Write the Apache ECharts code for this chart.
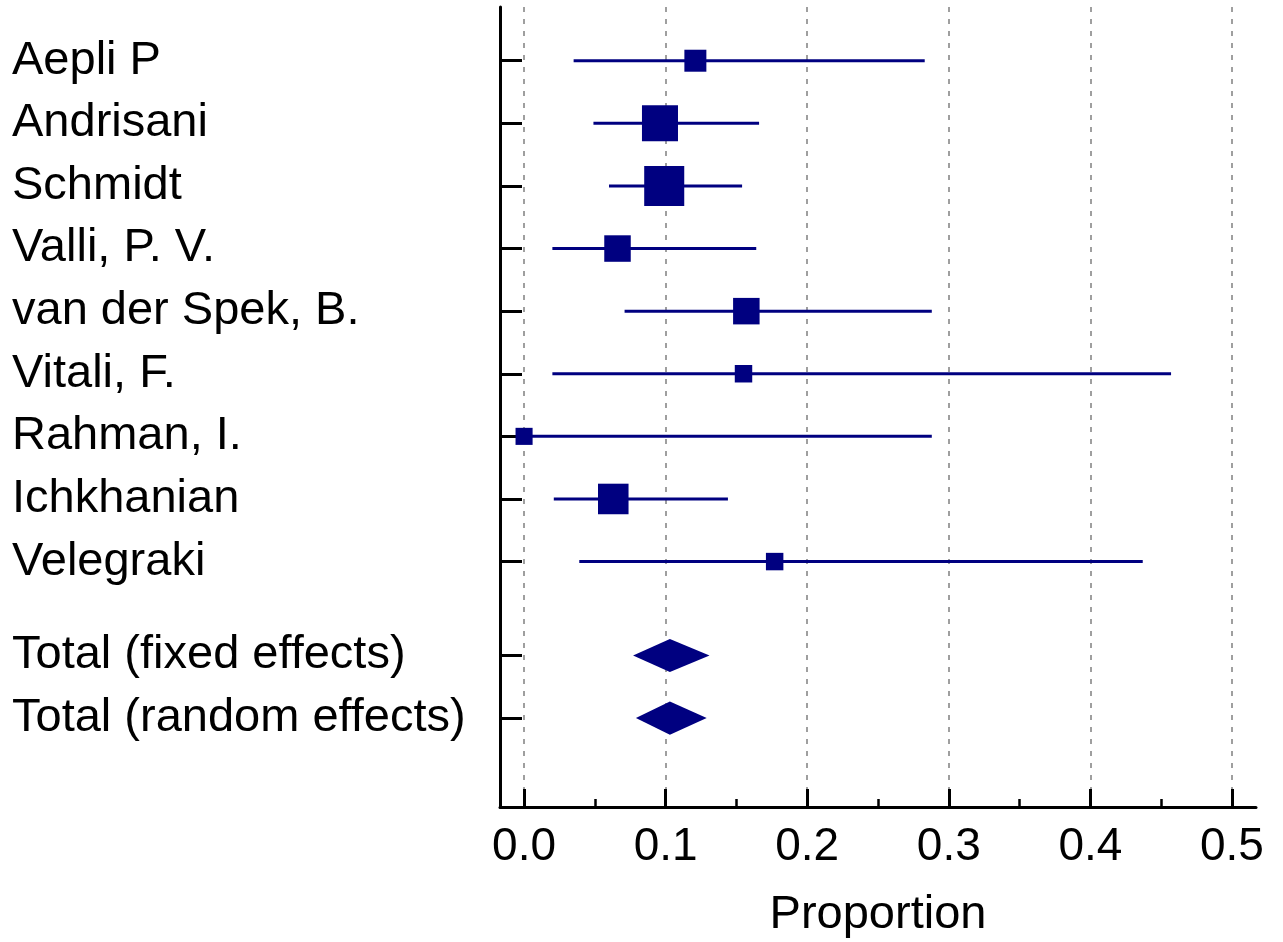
<!DOCTYPE html>
<html>
<head>
<meta charset="utf-8">
<title>Forest plot - Proportion</title>
<script src="https://cdn.jsdelivr.net/npm/echarts@6/dist/echarts.min.js"></script>
<style>
  html, body { margin: 0; padding: 0; background: #fff; }
  #chart { width: 1283px; height: 942px; }
</style>
</head>
<body>
<div id="chart"></div>
<script>
// individual studies, top to bottom
const studies = ["Aepli P", "Andrisani", "Schmidt", "Valli, P. V.", "van der Spek, B.", "Vitali, F.", "Rahman, I.", "Ichkhanian", "Velegraki"];
const proportion = [0.121, 0.096, 0.099, 0.066, 0.157, 0.155, 0.0, 0.063, 0.177];
const ciLow = [0.035, 0.049, 0.060, 0.020, 0.071, 0.020, 0.0, 0.021, 0.039];
const ciHigh = [0.283, 0.166, 0.154, 0.164, 0.288, 0.457, 0.288, 0.144, 0.437];
const weights = [7.3, 19.6, 24.2, 10.6, 10.6, 4.6, 4.4, 14.1, 4.6]; // % weight -> box area

// pooled estimates
const pooled = ["Total (fixed effects)", "Total (random effects)"];
const pooledEst = [0.103, 0.103];
const pooledLow = [0.077, 0.079];
const pooledHigh = [0.131, 0.129];

const xTicks = [0, 0.1, 0.2, 0.3, 0.4, 0.5];
const xMinorTicks = [0.05, 0.15, 0.25, 0.35, 0.45];

const navy = "#000080";
const font = "'Liberation Sans', Arial, sans-serif";

// row slots: studies 1..n, then a gap of half a row before the totals
const studyRows = studies.map((_, i) => i + 1);
const pooledRows = pooled.map((_, i) => studies.length + 1.5 + i);
const allRows = studyRows.concat(pooledRows);
const allNames = studies.concat(pooled);

const studyData = studies.map((_, i) => [ciLow[i], proportion[i], ciHigh[i], studyRows[i], weights[i]]);
const pooledData = pooled.map((_, i) => [pooledLow[i], pooledEst[i], pooledHigh[i], pooledRows[i]]);

function renderStudy(params, api) {
  const y = api.value(3);
  const lo = api.coord([api.value(0), y]);
  const hi = api.coord([api.value(2), y]);
  const mid = api.coord([api.value(1), y]);
  const rowH = api.size([0, 1])[1];
  const side = rowH * 0.13 * Math.sqrt(api.value(4));
  return {
    type: "group",
    children: [
      { type: "line", shape: { x1: lo[0], y1: lo[1], x2: hi[0], y2: hi[1] }, style: { stroke: navy, lineWidth: 3 } },
      { type: "rect", shape: { x: mid[0] - side / 2, y: mid[1] - side / 2, width: side, height: side }, style: { fill: navy } }
    ]
  };
}

function renderDiamond(params, api) {
  const y = api.value(3);
  const lo = api.coord([api.value(0), y]);
  const hi = api.coord([api.value(2), y]);
  const mid = api.coord([api.value(1), y]);
  const h = api.size([0, 1])[1] * 0.53;
  return {
    type: "polygon",
    shape: { points: [[lo[0], lo[1]], [mid[0], mid[1] - h / 2], [hi[0], hi[1]], [mid[0], mid[1] + h / 2]] },
    style: { fill: navy }
  };
}

const chart = echarts.init(document.getElementById("chart"));

chart.setOption({
  backgroundColor: "#fff",
  animation: false,
  grid: { left: 500, right: 27, top: 7, bottom: 135, containLabel: false, outerBoundsMode: "none" },
  xAxis: [
    {
      type: "value",
      min: -0.017,
      max: 0.517,
      name: "Proportion",
      nameLocation: "middle",
      nameGap: 85,
      nameTextStyle: { fontFamily: font, fontSize: 47, color: "#000" },
      axisLine: { onZero: false, lineStyle: { color: "#000", width: 3 } },
      axisTick: { customValues: xTicks, inside: true, length: 18, lineStyle: { color: "#000", width: 3 } },
      axisLabel: {
        customValues: xTicks,
        margin: 17,
        fontFamily: font,
        fontSize: 46,
        color: "#000",
        formatter: (v) => v.toFixed(1)
      },
      splitLine: { show: true, lineStyle: { color: "#808080", width: 1.5, type: [5, 7] } }
    },
    {
      // minor ticks only
      type: "value",
      min: -0.017,
      max: 0.517,
      position: "bottom",
      offset: 0,
      axisLine: { show: false, onZero: false },
      axisTick: { customValues: xMinorTicks, inside: true, length: 8, lineStyle: { color: "#000", width: 2.5 } },
      axisLabel: { show: false },
      splitLine: { show: false }
    }
  ],
  yAxis: {
    type: "value",
    inverse: true,
    min: 0.142,
    max: 12.92,
    axisLine: { onZero: false, lineStyle: { color: "#000", width: 3 } },
    axisTick: { customValues: allRows, inside: true, length: 22, lineStyle: { color: "#000", width: 3 } },
    axisLabel: {
      customValues: allRows,
      align: "left",
      margin: 488,
      fontFamily: font,
      fontSize: 47,
      color: "#000",
      formatter: (v) => allNames[allRows.indexOf(v)] || ""
    },
    splitLine: { show: false }
  },
  series: [
    {
      name: "Studies",
      type: "custom",
      renderItem: renderStudy,
      encode: { x: [0, 1, 2], y: 3 },
      data: studyData,
      z: 3
    },
    {
      name: "Pooled",
      type: "custom",
      renderItem: renderDiamond,
      encode: { x: [0, 1, 2], y: 3 },
      data: pooledData,
      z: 3
    }
  ]
});
</script>
</body>
</html>
